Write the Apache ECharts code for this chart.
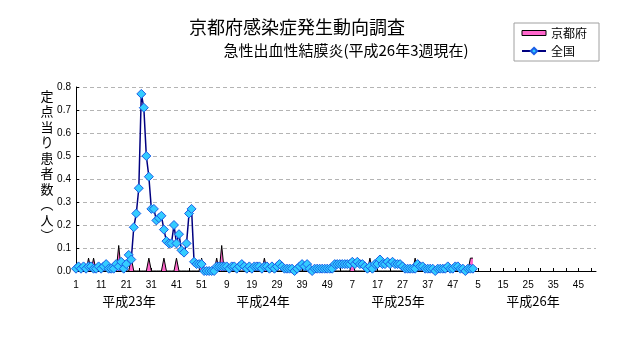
<!DOCTYPE html>
<html>
<head>
<meta charset="utf-8">
<script src="https://cdn.jsdelivr.net/npm/echarts@6/dist/echarts.min.js"></script>
<style>
  html, body { margin: 0; padding: 0; background: #fff; }
  #chart { width: 632px; height: 348px; }
</style>
</head>
<body>
<div id="chart"></div>
<script>
// Year blocks on the x axis and their week counts
const yearLabels = ['平成23年', '平成24年', '平成25年', '平成26年'];
const weeksPerYear = [52, 52, 52, 52];

// 全国: cases per sentinel, by week
const zenkoku2011 = [
  0.01, 0.02, 0.01, 0.02, 0.01, 0.02, 0.02, 0.01, 0.01, 0.02,
  0.01, 0.02, 0.03, 0.01, 0.01, 0.01, 0.03, 0.02, 0.04, 0.01,
  0.03, 0.07, 0.05, 0.19, 0.25, 0.36, 0.77, 0.71, 0.50, 0.41,
  0.27, 0.27, 0.22, 0.23, 0.24, 0.18, 0.13, 0.12, 0.12, 0.20,
  0.12, 0.16, 0.09, 0.08, 0.12, 0.25, 0.27, 0.04, 0.03, 0.03,
  0.03, 0.00
];
const zenkoku2012 = [
  0.00, 0.00, 0.00, 0.00, 0.02, 0.02, 0.02, 0.02, 0.02, 0.01,
  0.02, 0.02, 0.01, 0.02, 0.03, 0.02, 0.01, 0.02, 0.01, 0.02,
  0.02, 0.02, 0.01, 0.02, 0.02, 0.01, 0.02, 0.01, 0.02, 0.03,
  0.02, 0.01, 0.01, 0.01, 0.01, 0.00, 0.01, 0.02, 0.03, 0.02,
  0.03, 0.01, 0.00, 0.01, 0.01, 0.01, 0.01, 0.01, 0.01, 0.01,
  0.01, 0.03
];
const zenkoku2013 = [
  0.03, 0.03, 0.03, 0.03, 0.03, 0.03, 0.04, 0.03, 0.04, 0.03,
  0.03, 0.02, 0.01, 0.02, 0.01, 0.03, 0.03, 0.05, 0.03, 0.03,
  0.04, 0.03, 0.04, 0.03, 0.03, 0.03, 0.02, 0.01, 0.01, 0.01,
  0.01, 0.01, 0.03, 0.02, 0.02, 0.01, 0.01, 0.01, 0.01, 0.00,
  0.01, 0.01, 0.01, 0.01, 0.02, 0.01, 0.01, 0.02, 0.02, 0.01,
  0.01, 0.00
];
const zenkoku2014 = [0.01, 0.01, 0.01];

// 京都府: cases per sentinel, by week
const kyoto2011 = [
  0, 0, 0, 0, 0, 0.056, 0, 0.056, 0, 0,
  0, 0, 0, 0, 0, 0, 0, 0.111, 0, 0,
  0, 0, 0.056, 0, 0, 0, 0, 0, 0, 0.056,
  0, 0, 0, 0, 0, 0.056, 0, 0, 0, 0,
  0.056, 0, 0, 0, 0, 0, 0, 0, 0, 0,
  0.056, 0
];
const kyoto2012 = [
  0, 0, 0, 0, 0.056, 0, 0.111, 0, 0, 0,
  0, 0, 0, 0, 0, 0, 0, 0, 0, 0,
  0, 0, 0, 0.056, 0, 0, 0, 0, 0, 0,
  0, 0, 0, 0, 0, 0, 0, 0, 0, 0,
  0, 0, 0, 0, 0, 0, 0, 0, 0, 0,
  0, 0
];
const kyoto2013 = [
  0, 0, 0, 0, 0, 0, 0.056, 0, 0, 0,
  0, 0, 0, 0.056, 0, 0, 0, 0, 0, 0,
  0, 0, 0, 0, 0, 0, 0, 0, 0, 0,
  0, 0.056, 0, 0, 0, 0, 0, 0, 0, 0,
  0, 0, 0, 0, 0, 0, 0, 0, 0, 0,
  0, 0
];
const kyoto2014 = [0, 0.056, 0.056];

const yTicks = [0, 0.1, 0.2, 0.3, 0.4, 0.5, 0.6, 0.7, 0.8];

// One category per week: "平成23年1週" ... the label shows only the week number
const categories = [];
yearLabels.forEach((y, k) => {
  for (let w = 1; w <= weeksPerYear[k]; w++) categories.push(y + w + '週');
});
const zenkoku = [].concat(zenkoku2011, zenkoku2012, zenkoku2013, zenkoku2014);
const kyoto = [].concat(kyoto2011, kyoto2012, kyoto2013, kyoto2014);

const FONT = '"Noto Sans CJK JP", "Noto Sans", sans-serif';
const NUMFONT = '"Liberation Sans", "Noto Sans CJK JP", sans-serif';

const chart = echarts.init(document.getElementById('chart'), null, { renderer: 'canvas' });

const yearX = [129, 263, 398, 533];
const graphics = [
  { type: 'text', x: 297, y: 27,
    style: { text: '京都府感染症発生動向調査', font: '18px ' + FONT, fill: '#000',
             align: 'center', verticalAlign: 'middle' } },
  { type: 'text', x: 346, y: 50,
    style: { text: '急性出血性結膜炎(平成26年3週現在)', font: '15px ' + FONT, fill: '#000',
             align: 'center', verticalAlign: 'middle' } },
  { type: 'text', x: 47, y: 88,
    style: { text: '定点当り患者数︵人︶'.split('').join('\n'), font: '13px ' + FONT,
             lineHeight: 15.5, fill: '#000', align: 'center', verticalAlign: 'top' } }
];
yearLabels.forEach((t, k) => {
  graphics.push({ type: 'text', x: yearX[k], y: 301,
    style: { text: t, font: '13px ' + FONT, fill: '#000', align: 'center', verticalAlign: 'middle' } });
});

chart.setOption({
  animation: false,
  backgroundColor: '#fff',
  grid: { left: 76, right: 36, top: 87, bottom: 77, containLabel: false },
  legend: {
    orient: 'vertical', left: 514, top: 23,
    padding: [4, 12, 4, 7], itemGap: 6, itemWidth: 24, itemHeight: 8,
    borderColor: '#a0a0a0', borderWidth: 1, backgroundColor: '#fff',
    textStyle: { fontSize: 12, fontFamily: FONT, color: '#000' },
    data: [
      { name: '京都府', icon: 'path://M0,0H24V5H0Z',
        itemStyle: { color: '#ff66cc', borderColor: '#000', borderWidth: 1 } },
      { name: '全国' }
    ]
  },
  xAxis: {
    type: 'category', data: categories, boundaryGap: false,
    axisLine: { lineStyle: { color: '#000', width: 1 } },
    axisTick: { inside: true, length: 3, interval: 4, lineStyle: { color: '#000' } },
    axisLabel: { interval: 9, margin: 9, fontSize: 10, fontFamily: NUMFONT, color: '#000',
                 formatter: v => v.replace(/^.*年(\d+)週$/, '$1') },
    splitLine: { show: false }
  },
  yAxis: {
    type: 'value', min: yTicks[0], max: yTicks[yTicks.length - 1], interval: 0.1,
    axisLine: { show: true, lineStyle: { color: '#000', width: 1 } },
    axisTick: { show: true, inside: true, length: 3, lineStyle: { color: '#000' } },
    axisLabel: { fontSize: 10, fontFamily: NUMFONT, color: '#000', margin: 5,
                 formatter: v => v.toFixed(1) },
    splitLine: { lineStyle: { color: '#b4b4b4', type: [4, 3], width: 1 } }
  },
  graphic: graphics,
  series: [
    {
      name: '京都府', type: 'line', data: kyoto, symbol: 'none', z: 2,
      lineStyle: { color: '#000', width: 1 },
      areaStyle: { color: '#ff66cc', opacity: 1 },
      itemStyle: { color: '#ff66cc' }
    },
    {
      name: '全国', type: 'line', data: zenkoku, z: 3,
      symbol: 'diamond', symbolSize: 9, showAllSymbol: true,
      lineStyle: { color: '#000080', width: 1.5 },
      itemStyle: { color: '#33ccff', borderColor: '#1a5ee6', borderWidth: 1 }
    }
  ]
});
</script>
</body>
</html>
